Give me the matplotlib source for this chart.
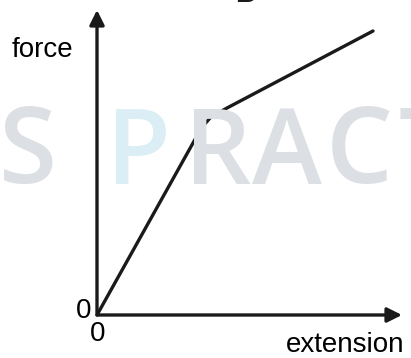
import matplotlib
matplotlib.use("Agg")
import matplotlib.pyplot as plt

plt.rcParams["font.family"] = ["Liberation Sans", "DejaVu Sans"]

# curve (arbitrary units, origin at 0,0)
extension = [0, 96, 101, 106, 113, 121, 130, 276]
force = [0, 172, 181, 189, 197, 202, 207, 284]

# watermark letters and their centres (figure pixels)
wm_letters = ["S", "P", "R", "A", "C", "T"]
wm_x = [28, 138, 218, 287, 359, 428]
wm_colors = ["#dcdfe4", "#dbeef6", "#dcdfe4", "#dcdfe4", "#dcdfe4", "#dcdfe4"]

W, H = 411, 358
fig = plt.figure(figsize=(W / 100, H / 100), dpi=100)

for letter, x, c in zip(wm_letters, wm_x, wm_colors):
    fig.text(x / W, 1 - 156 / H, letter, fontsize=76, fontweight="semibold",
             color=c, ha="center", va="center", zorder=0,
             family=["Open Sans", "Liberation Sans"])

# cut-off bold letter at the very top
fig.text(245 / W, 1 - 2 / H, "B", fontsize=20, fontweight="bold",
         ha="center", va="baseline", color="#1a1a1a")

x0, y0 = 97, 315
ax = fig.add_axes([x0 / W, 1 - y0 / H, (402 - x0) / W, (y0 - 10) / H])
ax.set_xlim(0, 305)
ax.set_ylim(0, 305)
ax.patch.set_alpha(0)
for s in ax.spines.values():
    s.set_visible(False)
ax.set_xticks([])
ax.set_yticks([])

ax.plot(extension, force, color="#1a1a1a", lw=2.4, solid_capstyle="round",
        solid_joinstyle="round")

arrow = dict(arrowstyle="-|>", color="#1a1a1a", lw=2.4,
             mutation_scale=22, shrinkA=0, shrinkB=0)
ax.annotate("", xy=(0, 1), xytext=(0, 0), xycoords="axes fraction",
            arrowprops=arrow, annotation_clip=False)
ax.annotate("", xy=(1, 0), xytext=(0, 0), xycoords="axes fraction",
            arrowprops=arrow, annotation_clip=False)

fig.text(42 / W, 1 - 50 / H, "force", fontsize=20, ha="center", va="center")
fig.text(345 / W, 1 - 345 / H, "extension", fontsize=20, ha="center", va="center")
fig.text(84 / W, 1 - 311 / H, "0", fontsize=20, ha="center", va="center")
fig.text(98 / W, 1 - 334 / H, "0", fontsize=20, ha="center", va="center")

fig.savefig("out.png", dpi=100)
